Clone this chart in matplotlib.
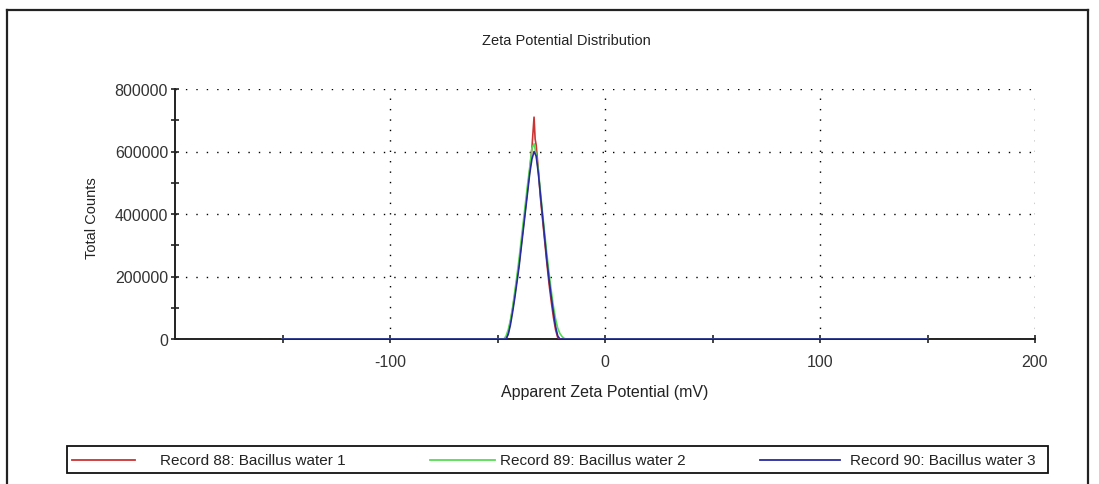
import matplotlib
matplotlib.use("Agg")
import matplotlib.pyplot as plt
from matplotlib.lines import Line2D
from matplotlib.patches import Rectangle

plt.rcParams['font.family'] = ['Liberation Sans', 'DejaVu Sans']

# ---- data ----
x_red = [-150, -46, -45, -44, -43, -42, -41, -40, -39, -38, -37, -36, -35, -34, -33.5, -33, -32.5, -32,
         -31, -30, -29, -28, -27, -26, -25, -24, -23, -22, -21, 150]
y_red = [0, 0, 20000, 55000, 95000, 140000, 190000, 240000, 300000, 360000, 420000, 480000, 540000, 610000,
         660000, 710000, 640000, 620000, 540000, 450000, 380000, 310000, 240000, 175000, 120000, 70000,
         30000, 5000, 0, 0]

x_green = [-150, -47, -46, -45, -44, -43, -42, -41, -40, -39, -38, -37, -36, -35, -34, -33, -32, -31, -30,
           -29, -28, -27, -26, -25, -24, -23, -22, -21, -20, -19, -18, 150]
y_green = [0, 0, 10000, 30000, 60000, 100000, 150000, 200000, 255000, 315000, 375000, 435000, 495000,
           550000, 610000, 625000, 590000, 540000, 470000, 400000, 335000, 270000, 210000, 155000, 105000,
           65000, 35000, 18000, 8000, 2000, 0, 0]

x_blue = [-150, -46, -45, -44, -43, -42, -41, -40, -39, -38, -37, -36, -35, -34, -33, -32, -31, -30, -29,
          -28, -27, -26, -25, -24, -23, -22, -21, 150]
y_blue = [0, 0, 15000, 45000, 85000, 130000, 180000, 230000, 290000, 350000, 410000, 470000, 530000,
          575000, 600000, 585000, 530000, 460000, 390000, 320000, 250000, 190000, 135000, 85000, 40000,
          10000, 0, 0]

labels = ["Record 88: Bacillus water 1", "Record 89: Bacillus water 2", "Record 90: Bacillus water 3"]
colors = ["#cc3333", "#55dd55", "#2a2aa0"]

xticks = [-100, 0, 100, 200]
xtick_labels = ["-100", "0", "100", "200"]
yticks = [0, 200000, 400000, 600000, 800000]
ytick_labels = ["0", "200000", "400000", "600000", "800000"]

W, H = 1099, 485
fig = plt.figure(figsize=(W / 100, H / 100), dpi=100)
fig.patch.set_facecolor("white")

# outer frame
frame_kw = dict(color="#222222", lw=1.6, transform=fig.transFigure)
fig.add_artist(Line2D([7 / W, 1088 / W], [1 - 11 / H, 1 - 11 / H], **frame_kw))
fig.add_artist(Line2D([7 / W, 7 / W], [1 - 11 / H, 0], **frame_kw))
fig.add_artist(Line2D([1088 / W, 1088 / W], [1 - 11 / H, 0], **frame_kw))

ax = fig.add_axes([175 / W, 1 - 340 / H, 860 / W, 250 / H])
ax.set_xlim(-200, 200)
ax.set_ylim(0, 800000)

series = [(x_red, y_red), (x_green, y_green), (x_blue, y_blue)]
handles = []
for i, ((xs, ys), c, lab) in enumerate(zip(series, colors, labels)):
    ln, = ax.plot(xs, ys, color=c, lw=1.2, label=lab, zorder=3 + i)
    handles.append(ln)

ax.spines['top'].set_visible(False)
ax.spines['right'].set_visible(False)
ax.spines['left'].set_color("#222222")
ax.spines['bottom'].set_color("#222222")
ax.spines['left'].set_linewidth(1.4)
ax.spines['bottom'].set_linewidth(1.4)

ax.set_xticks(xticks)
ax.set_xticklabels(xtick_labels)
ax.set_yticks(yticks)
ax.set_yticklabels(ytick_labels)
ax.set_xticks([-150, -50, 50, 150], minor=True)
ax.set_yticks([100000, 300000, 500000, 700000], minor=True)
ax.tick_params(which='both', direction='inout', length=6, width=1.2, color="#222222",
               labelsize=11.5, labelcolor="#333333")
ax.tick_params(axis='x', which='major', pad=8)
ax.tick_params(axis='y', which='major', pad=2)

ax.grid(True, which='major', color="black", linestyle=(0, (1, 6.5)), linewidth=1.0)
ax.set_axisbelow(True)

fig.text(566 / W, 1 - 41 / H, "Zeta Potential Distribution", ha="center", va="center",
         fontsize=10.5, color="#222222")
fig.text(605 / W, 1 - 393 / H, "Apparent Zeta Potential (mV)", ha="center", va="center",
         fontsize=11.5, color="#222222")
fig.text(92 / W, 1 - 218 / H, "Total Counts", ha="center", va="center", rotation=90,
         fontsize=10.5, color="#222222")

# legend box
top, bot = 447, 474
fig.add_artist(Rectangle((67 / W, 1 - bot / H), (1048 - 67) / W, (bot - top) / H,
                         transform=fig.transFigure, fill=False, edgecolor="#111111", lw=1.3))
ymid = 1 - 461 / H
line_pos = [(72, 135), (430, 495), (760, 840)]
text_pos = [160, 500, 850]
for h, (x0, x1), tx, lab in zip(handles, line_pos, text_pos, labels):
    fig.add_artist(Line2D([x0 / W, x1 / W], [ymid, ymid], color=h.get_color(), lw=1.3,
                          transform=fig.transFigure))
    fig.text(tx / W, ymid, lab, ha="left", va="center", fontsize=11, color="#222222")

fig.savefig("out.png", dpi=100)
